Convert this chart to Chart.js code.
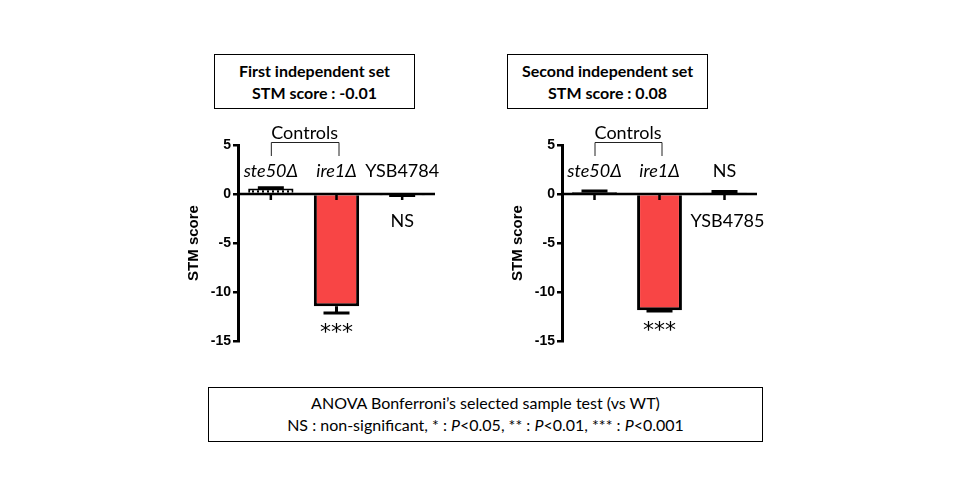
<!DOCTYPE html>
<html>
<head>
<meta charset="utf-8">
<script src="https://cdn.jsdelivr.net/npm/chart.js@4"></script>
<style>
  html, body { margin: 0; padding: 0; background: #fff; width: 960px; height: 500px; overflow: hidden; }
  .box { position: absolute; border: 1px solid #000; box-sizing: border-box; text-align: center; font-family: Lato, "Open Sans", sans-serif; color: #000; }
  .title { font-weight: bold; font-size: 16px; line-height: 22px; padding-top: 5px; }
  .foot { font-size: 16px; line-height: 22px; padding-top: 4px; }
  .cv { position: absolute; }
</style>
</head>
<body>
<div class="box title" style="left:214px; top:54px; width:201px; height:55px;">First independent set<br>STM score : -0.01</div>
<div class="box title" style="left:507px; top:54px; width:201px; height:55px;">Second independent set<br>STM score : 0.08</div>
<div class="box foot" style="left:208px; top:387px; width:555px; height:55px;">ANOVA Bonferroni’s selected sample test (vs WT)<br>NS : non-significant, * : <i>P</i>&lt;0.05, ** : <i>P</i>&lt;0.01, *** : <i>P</i>&lt;0.001</div>

<div class="cv" style="left:183px; top:100px; width:270px; height:260px;"><canvas id="c1" width="270" height="260"></canvas></div>
<div class="cv" style="left:507px; top:100px; width:270px; height:260px;"><canvas id="c2" width="270" height="260"></canvas></div>

<script>
// ---- data ----
const categories1 = ['ste50Δ', 'ire1Δ', 'YSB4784'];
const categories2 = ['ste50Δ', 'ire1Δ', 'YSB4785'];
const set1Values = [0.55, -11.45, -0.1];
const set1Errors = [0.1, 0.7, 0.05];
const set2Values = [0.2, -11.85, 0.15];
const set2Errors = [0.1, 0.1, 0.1];
const italicLabels = [true, true, false];
const set1AboveText = ['ste50Δ', 'ire1Δ', 'YSB4784'];
const set1BelowText = ['', '', 'NS'];
const set2AboveText = ['ste50Δ', 'ire1Δ', 'NS'];
const set2BelowText = ['', '', 'YSB4785'];
const set1Stars = ['', '***', ''];
const set2Stars = ['', '***', ''];
const controlsGroup = [0, 1];
const yMin = -15, yMax = 5, yStep = 5;
const yTitle = 'STM score';

// ---- styles ----
const RED = '#F84545';
const LABEL_FONT = 'Lato, "Open Sans", sans-serif';

function dottedPattern() {
  const p = document.createElement('canvas');
  p.width = 5; p.height = 5;
  const g = p.getContext('2d');
  g.fillStyle = '#000'; g.fillRect(0, 0, 5, 5);
  g.fillStyle = '#fff'; g.fillRect(1, 0, 3, 5);
  return g.createPattern(p, 'repeat');
}

const annotPlugin = {
  id: 'annot',
  afterDatasetsDraw(chart, args, opts) {
    const ctx = chart.ctx;
    const x = chart.scales.x, y = chart.scales.y;
    const ca = chart.chartArea;
    const zero = y.getPixelForValue(0);
    const vals = chart.data.datasets[0].data;
    ctx.save();
    // error bars
    ctx.strokeStyle = '#000';
    ctx.lineWidth = 3;
    vals.forEach((v, i) => {
      const cx = x.getPixelForValue(i);
      const e = opts.errors[i];
      const end = v >= 0 ? v + e : v - e;
      const py0 = y.getPixelForValue(v), py1 = y.getPixelForValue(end);
      ctx.beginPath();
      ctx.moveTo(cx, py0); ctx.lineTo(cx, py1);
      ctx.moveTo(cx - 13, py1); ctx.lineTo(cx + 13, py1);
      ctx.stroke();
    });
    // zero axis line with ticks
    ctx.lineWidth = 2.5;
    ctx.beginPath();
    ctx.moveTo(ca.left, zero); ctx.lineTo(ca.right, zero);
    vals.forEach((v, i) => {
      const cx = x.getPixelForValue(i);
      ctx.moveTo(cx, zero); ctx.lineTo(cx, zero + 6);
    });
    ctx.stroke();
    // labels
    ctx.fillStyle = '#000';
    ctx.textAlign = 'center';
    ctx.textBaseline = 'middle';
    vals.forEach((v, i) => {
      const cx = x.getPixelForValue(i);
      const it = opts.italic[i] ? 'italic ' : '';
      if (opts.above[i]) {
        ctx.font = (opts.above[i] === 'NS' ? '' : it) + '18px ' + LABEL_FONT;
        ctx.fillText(opts.above[i], cx, zero - 23);
      }
      if (opts.below[i]) {
        ctx.font = '18px ' + LABEL_FONT;
        ctx.fillText(opts.below[i], cx + (opts.below[i] === 'NS' ? 0 : 3), zero + 27);
      }
      if (opts.stars[i]) {
        const e = opts.errors[i];
        const end = v >= 0 ? v + e : v - e;
        ctx.font = '22px "DejaVu Sans", sans-serif';
        ctx.textBaseline = 'alphabetic';
        ctx.fillText(opts.stars[i], cx, y.getPixelForValue(end) + 25.5);
        ctx.textBaseline = 'middle';
      }
    });
    // controls bracket
    const bx0 = x.getPixelForValue(opts.group[0]);
    const bx1 = x.getPixelForValue(opts.group[1]);
    ctx.lineWidth = 1;
    ctx.strokeStyle = '#222';
    ctx.beginPath();
    ctx.moveTo(bx0 + 0.5, zero - 38); ctx.lineTo(bx0 + 0.5, zero - 51.5);
    ctx.lineTo(bx1 + 2.5, zero - 51.5); ctx.lineTo(bx1 + 2.5, zero - 38);
    ctx.stroke();
    ctx.font = '18px ' + LABEL_FONT;
    ctx.fillText('Controls', (bx0 + bx1) / 2 + 1, zero - 61);
    ctx.restore();
  }
};

function makeChart(id, cats, vals, errs, fills, above, below, stars, padRight) {
  return new Chart(document.getElementById(id), {
    type: 'bar',
    data: {
      labels: cats,
      datasets: [{
        data: vals,
        backgroundColor: fills,
        borderColor: '#000',
        borderWidth: [2, 3, 3],
        categoryPercentage: 1,
        barPercentage: 0.69
      }]
    },
    options: {
      responsive: false,
      animation: false,
      layout: { padding: { top: 45, bottom: 19, left: 0, right: padRight } },
      plugins: {
        legend: { display: false },
        tooltip: { enabled: false },
        annot: { errors: errs, italic: italicLabels, above: above, below: below, stars: stars, group: controlsGroup }
      },
      scales: {
        x: { display: false },
        y: {
          min: yMin, max: yMax,
          afterFit(axis) { axis.width = 55; },
          ticks: {
            stepSize: yStep, color: '#000', padding: 2,
            font: { family: '"Liberation Sans", Arial, sans-serif', weight: 'bold', size: 14 }
          },
          grid: { drawOnChartArea: false, drawTicks: true, tickLength: 5, color: '#000', lineWidth: 2.5 },
          border: { color: '#000', width: 3 },
          title: {
            display: true, text: yTitle, color: '#000',
            font: { family: '"Liberation Sans", Arial, sans-serif', weight: 'bold', size: 15 },
            padding: { top: 2, bottom: 2 }
          }
        }
      }
    },
    plugins: [annotPlugin]
  });
}

makeChart('c1', categories1, set1Values, set1Errors, [dottedPattern(), RED, '#fff'],
  set1AboveText, set1BelowText, set1Stars, 18);
makeChart('c2', categories2, set2Values, set2Errors, ['#000', RED, '#000'],
  set2AboveText, set2BelowText, set2Stars, 20);
</script>
</body>
</html>
